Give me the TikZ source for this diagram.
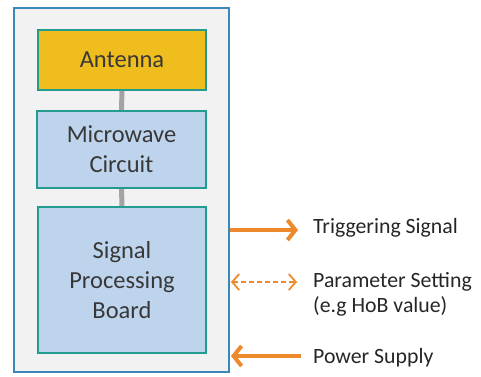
\documentclass[tikz,border=0pt]{standalone}
\usepackage{fontspec}
\setmainfont{Carlito}
\usetikzlibrary{arrows.meta}
\definecolor{frameblue}{HTML}{3A88BA}
\definecolor{framefill}{HTML}{F2F2F2}
\definecolor{tealedge}{HTML}{239C8F}
\definecolor{gold}{HTML}{F0BD1E}
\definecolor{paleblue}{HTML}{BDD4EC}
\definecolor{linkgray}{HTML}{A3A3A3}
\definecolor{sigorange}{HTML}{EE8A2B}
\definecolor{boxtext}{HTML}{383838}
\definecolor{labeltext}{HTML}{262626}
\tikzset{
  blockbox/.style={draw=tealedge, line width=2pt, text=boxtext, align=center,
    font=\fontsize{24.5}{30}\selectfont, inner sep=0pt},
  link/.style={draw=linkgray, line width=5pt},
  sig/.style={draw=sigorange, line width=4pt, line join=round,
    -{Straight Barb[length=8pt,width=20pt,line width=4pt]}},
  sigdash/.style={draw=sigorange, line width=1.8pt, dash pattern=on 5pt off 3pt,
    {Straight Barb[length=7pt,width=16pt,line width=1.8pt]}-{Straight Barb[length=7pt,width=16pt,line width=1.8pt]}},
  lbl/.style={anchor=west, text=labeltext, align=left, inner sep=0pt,
    font=\fontsize{21.8}{25}\selectfont}
}
\begin{document}
\begin{tikzpicture}[x=1pt,y=-1pt]
\useasboundingbox (0,0) rectangle (481,376);
% outer enclosure
\node[draw=frameblue, fill=framefill, line width=2pt, minimum width=215pt,
  minimum height=364pt, inner sep=0pt] (unit) at (121.5,190) {};
% stacked blocks
\node[blockbox, fill=gold, minimum width=168pt, minimum height=60pt] (ant) at (122,60) {Antenna};
\node[blockbox, fill=paleblue, minimum width=169pt, minimum height=77pt] (mw) at (121.5,149.5) {Microwave\\Circuit};
\node[blockbox, fill=paleblue, minimum width=168pt, minimum height=146pt] (spb) at (122,280) {Signal\\Processing\\Board};
\draw[link] (ant.south) -- (mw.north);
\draw[link] (mw.south) -- (spb.north);
% interface labels
\node[lbl] (trig) at (313,228) {Triggering Signal};
\node[lbl] (param) at (313,294) {Parameter Setting\\(e.g HoB value)};
\node[lbl] (pwr) at (313,358) {Power Supply};
% interface arrows
\coordinate (tA) at (unit.east |- 0,230);
\coordinate (tB) at (298,230);
\coordinate (pA) at (unit.east |- 0,282);
\coordinate (pB) at (297,282);
\coordinate (wA) at (301,356);
\coordinate (wB) at (unit.east |- 0,356);
\draw[sig] (tA) -- (tB);
\draw[sigdash] ([xshift=1pt]pA) -- (pB);
\draw[sig] (wA) -- ([xshift=1pt]wB);
\end{tikzpicture}
\end{document}
